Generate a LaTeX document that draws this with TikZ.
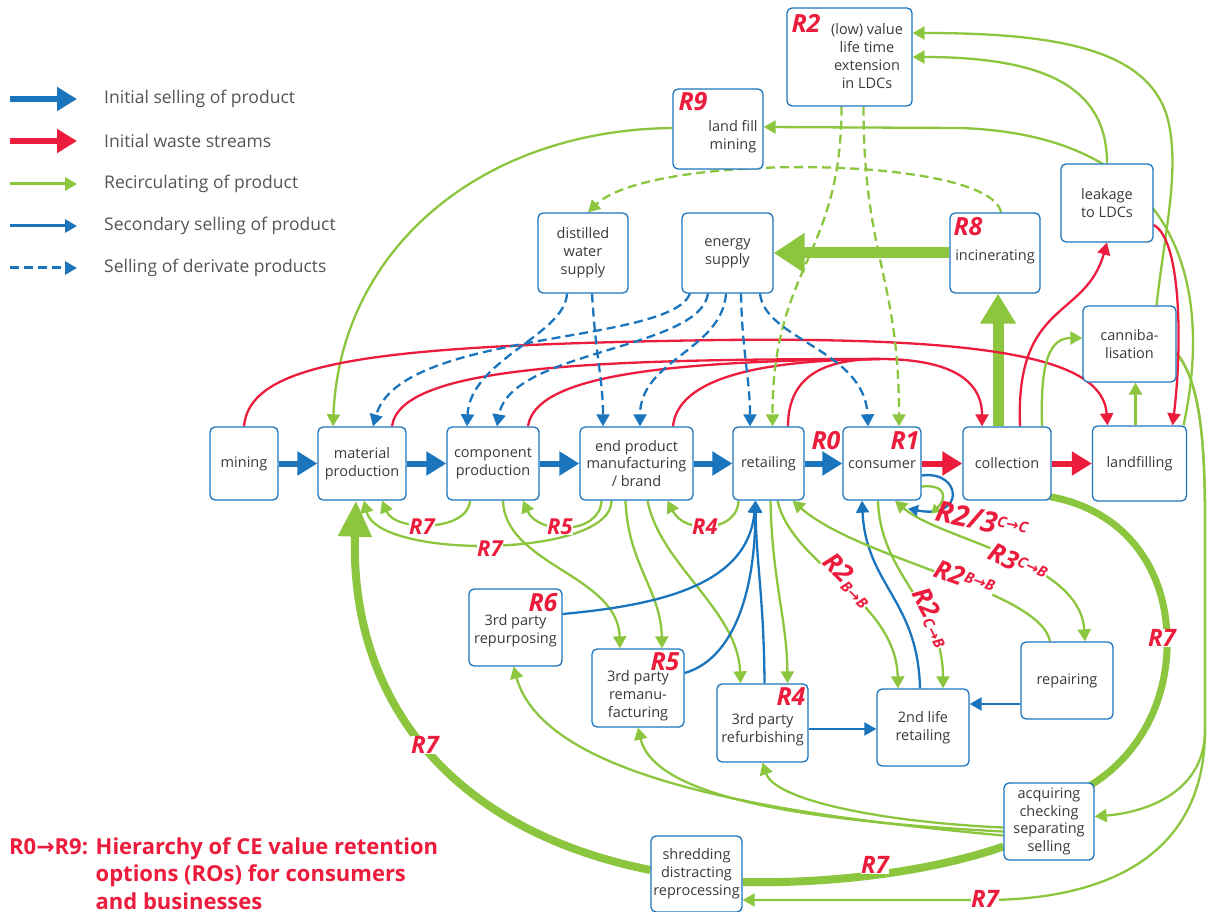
\documentclass[tikz,border=0pt]{standalone}
\usepackage{fontspec}
\setmainfont{Open Sans}
\newfontfamily\dejavu{DejaVu Sans}
\usetikzlibrary{arrows.meta}
\definecolor{cblue}{HTML}{1B75BC}
\definecolor{cred}{HTML}{EC1C3C}
\definecolor{cgreen}{HTML}{8CC63F}
\definecolor{ctext}{HTML}{3A3A3A}
\definecolor{clegend}{HTML}{555555}
\pgfdeclarelayer{back}
\pgfdeclarelayer{bg}
\pgfsetlayers{back,bg,main}
\newcommand\myarrow{{\dejavu →}}
\newcommand\smalltxt[1]{{\fontsize{15}{15}\selectfont #1}}
\tikzset{
  box/.style={draw=cblue, line width=1.3pt, rounded corners=5pt, fill=white, text=ctext, align=center, font=\fontsize{14.5}{17.8}\selectfont, inner sep=0pt},
  btxt/.style={text=ctext, align=center, font=\fontsize{14.5}{17.8}\selectfont, inner sep=0pt},
  rlab/.style={text=cred, font=\fontsize{25}{25}\selectfont\bfseries\itshape, inner sep=0pt},
  rlow/.style={text=cred, font=\fontsize{22}{22}\selectfont\bfseries\itshape, inner sep=0.5pt, fill=white},
  rdiag/.style={text=cred, font=\fontsize{26}{26}\selectfont\bfseries\itshape, inner sep=0.5pt},
  bigblue/.style={draw=cblue, line width=6pt, -{Triangle[length=20pt,width=23pt]}},
  bigred/.style={draw=cred, line width=6pt, -{Triangle[length=20pt,width=23pt]}},
  gthick/.style={draw=cgreen, line width=#1},
  garr/.style={draw=cgreen, line width=2.3pt, -{Triangle[length=12pt,width=13pt]}},
  barr/.style={draw=cblue, line width=2.3pt, -{Triangle[length=12pt,width=13pt]}},
  bdash/.style={barr, dash pattern=on 9pt off 5pt},
  gdash/.style={garr, dash pattern=on 9pt off 5pt},
  redarr/.style={draw=cred, line width=2.3pt, -{Triangle[length=12pt,width=13pt]}},
  redline/.style={draw=cred, line width=2.3pt},
  legtxt/.style={text=clegend, font=\fontsize{17.5}{20}\selectfont, anchor=west, inner sep=0pt},
}
\begin{document}
\begin{tikzpicture}[x=1pt,y=-1pt]
\begin{pgfonlayer}{back}
\fill[white] (0,0) rectangle (1211,912);
\end{pgfonlayer}
\useasboundingbox (0,0) rectangle (1211,912);

% ---------- boxes ----------
\node[box, minimum width=68pt, minimum height=73pt] (mining) at (244,463.5) {mining};
\node[box, minimum width=88pt, minimum height=73pt] (mat) at (362,463.5) {material\\production};
\node[box, minimum width=92pt, minimum height=73pt] (comp) at (493,463.5) {component\\production};
\node[box, minimum width=113pt, minimum height=73pt] (endp) at (636.5,463.5) {end product\\manufacturing\\/ brand};
\node[box, minimum width=71pt, minimum height=73pt] (ret) at (768.5,463.5) {retailing};
\node[box, minimum width=78pt, minimum height=73pt] (con) at (882,463.5) {};
\node[btxt] (contxt) at (882,465) {consumer};
\node[box, minimum width=88pt, minimum height=73pt] (coll) at (1007,463.5) {collection};
\node[box, minimum width=94pt, minimum height=75pt] (land) at (1139.5,463.5) {landfilling};
\node[box, minimum width=93pt, minimum height=76pt] (can) at (1129.5,344) {canniba-\\lisation};
\node[box, minimum width=92pt, minimum height=78pt] (leak) at (1107,203) {leakage\\to LDCs};
\node[box, minimum width=125pt, minimum height=98pt] (ldc) at (849.5,57) {};
\node[btxt] (ldctxt) at (867,56) {(low) value\\life time\\extension\\in LDCs};
\node[box, minimum width=90pt, minimum height=80pt] (lfm) at (718,129) {};
\node[btxt] (lfmtxt) at (733,137) {land fill\\mining};
\node[box, minimum width=90pt, minimum height=80pt] (dist) at (583,253) {distilled\\water\\supply};
\node[box, minimum width=91pt, minimum height=80pt] (energy) at (727.5,253) {energy\\supply};
\node[box, minimum width=90pt, minimum height=80pt] (inc) at (995,253) {};
\node[btxt] (inctxt) at (995,257) {incinerating};
\node[box, minimum width=93pt, minimum height=77pt] (rp) at (515.5,627.5) {};
\node[btxt] (rptxt) at (515.5,631) {3rd party\\repurposing};
\node[box, minimum width=92pt, minimum height=78pt] (rm) at (638,688) {};
\node[btxt] (rmtxt) at (638,696) {3rd party\\remanu-\\facturing};
\node[box, minimum width=91pt, minimum height=78pt] (rf) at (762.5,723) {};
\node[btxt] (rftxt) at (762.5,730) {3rd party\\refurbishing};
\node[box, minimum width=92pt, minimum height=77pt] (sec) at (923,727.5) {2nd life\\retailing};
\node[box, minimum width=92pt, minimum height=77pt] (rep) at (1067,680.5) {repairing};
\node[box, minimum width=90pt, minimum height=77pt] (acq) at (1049,821.5) {acquiring\\checking\\separating\\selling};
\node[box, minimum width=91pt, minimum height=76pt] (shr) at (696.5,874) {shredding\\distracting\\reprocessing};

% ---------- R labels in boxes ----------
\node[rlab] (r2) at (806,23) {R2};
\node[rlab] (r9) at (693,102) {R9};
\node[rlab] (r8) at (968,227) {R8};
\node[rlab] (r1) at (905,441) {R1};
\node[rlab] (r0) at (826,441) {R0};
\node[rlab] (r6) at (543,603) {R6};
\node[rlab] (r5) at (665,662) {R5};
\node[rlab] (r4) at (791,697) {R4};

% ---------- coordinates ----------
\coordinate (cn) at ([xshift=-9pt]coll.north);
\coordinate (cse) at ([xshift=-2pt,yshift=4pt]coll.south east);
\coordinate (acqne) at ([xshift=-6pt,yshift=-4pt]acq.north east);
\coordinate (acqw) at ([yshift=-25pt]acq.west);
\coordinate (shre) at ([yshift=-8pt]shr.east);
\coordinate (shrw) at ([yshift=4pt]shr.west);
\coordinate (cane) at ([yshift=-9pt]can.east);
\coordinate (landne) at ([xshift=44pt]land.north);
\coordinate (cann) at ([xshift=27pt]can.north);
\coordinate (lfmw) at ([yshift=1pt]lfm.west);
\coordinate (retb) at ([xshift=-13pt]ret.south);
\coordinate (repw) at ([yshift=-23.5pt]rep.west);
\coordinate (rfe) at ([yshift=-6pt]rf.east);
\coordinate (rj) at (880,359);
\coordinate (lnd) at ([xshift=-4pt]land.north);

\begin{pgfonlayer}{bg}
% thick initial selling / waste
\draw[bigblue] (mining.east) -- (mat.west);
\draw[bigblue] (mat.east) -- (comp.west);
\draw[bigblue] (comp.east) -- (endp.west);
\draw[bigblue] (endp.east) -- (ret.west);
\draw[bigblue] (ret.east) -- (con.west);
\draw[bigred] (con.east) -- (coll.west);
\draw[bigred] (coll.east) -- (land.west);

% thick green
\draw[gthick=11pt, -{Triangle[length=30pt,width=34pt]}] (cn) -- (cn |- inc.south);
\draw[gthick=11pt, -{Triangle[length=31pt,width=38pt]}] (inc.west) -- (inc.west -| energy.east);
\draw[gthick=7pt] (cse) .. controls (1125,510) and (1170,570) .. (1167,650) .. controls (1164,720) and (1125,765) .. (acqne);
\draw[gthick=8pt] (acqw) .. controls (930,872) and (830,884) .. (shre);
\draw[gthick=8pt, -{Triangle[length=36pt,width=32pt]}] (shrw) .. controls (450,830) and (350,700) .. ([xshift=-6pt]mat.south);

% green from acquiring
\draw[garr] ([yshift=-14pt]acq.west) .. controls (780,815) and (545,780) .. ([xshift=-2pt]rp.south);
\draw[garr] ([yshift=-10pt]acq.west) .. controls (820,822) and (655,800) .. (rm.south);
\draw[garr] ([yshift=-6pt]acq.west) .. controls (880,822) and (775,800) .. (rf.south);

% cannibalisation -> right edge
\draw[garr] (cane) .. controls (1198,380) and (1205,430) .. (1205,520) -- (1205,730) .. controls (1205,790) and (1150,812) .. ([yshift=5pt]acq.east);
\draw[garr] (cane) .. controls (1198,380) and (1205,430) .. (1205,520) -- (1205,730) .. controls (1205,860) and (1100,900) .. (985,900) -- ([yshift=-26pt]shr.east);

% to LDC and landfill mining
\draw[garr] (landne) .. controls (1215,280) and (1175,135) .. (960,128) -- ([yshift=2pt]lfm.east);
\draw[garr] (leak.north) .. controls (1107,90) and (1050,57) .. (ldc.east);
\draw[garr] (cann) .. controls (1165,230) and (1180,170) .. (1168,120) .. controls (1150,50) and (1060,33) .. ([yshift=24pt]ldc.east);
\draw[garr] (lfmw) .. controls (480,130) and (340,250) .. ([xshift=-29pt]mat.north);

% loops under top row
\draw[garr] ([xshift=-23pt]comp.south) .. controls (468,532) and (395,532) .. ([xshift=20pt]mat.south);
\draw[garr] ([xshift=-25pt]endp.south) .. controls (612,558) and (378,560) .. ([xshift=2pt]mat.south);
\draw[garr] ([xshift=-35pt]endp.south) .. controls (600,535) and (538,535) .. ([xshift=30pt]comp.south);
\draw[garr] ([xshift=-30pt]ret.south) .. controls (738,532) and (685,535) .. ([xshift=31pt]endp.south);

% down to 3rd parties / 2nd life
\draw[garr] ([xshift=10pt]comp.south) .. controls (505,565) and (618,575) .. ([xshift=-18pt]rm.north);
\draw[garr] ([xshift=-11pt]endp.south) .. controls (628,565) and (661,590) .. ([xshift=24pt]rm.north);
\draw[garr] ([xshift=11pt]endp.south) .. controls (660,565) and (738,610) .. ([xshift=-22pt]rf.north);
\draw[garr] ([xshift=2pt]ret.south) .. controls (772,580) and (787,620) .. ([xshift=25pt]rf.north);
\draw[garr] ([xshift=9pt]ret.south) .. controls (792,565) and (896,600) .. ([xshift=-25pt]sec.north);
\draw[garr] ([xshift=-4pt]con.south) .. controls (880,575) and (943,605) .. ([xshift=20pt]sec.north);
\draw[barr] ([xshift=-3pt]sec.north) .. controls (918,600) and (866,585) .. ([xshift=-20pt]con.south);

% blue secondary selling into retailing
\draw[barr] ([xshift=2pt]rf.north) .. controls (764,600) and (756,560) .. (retb);
\draw[barr] ([yshift=15pt]rm.east) .. controls (730,660) and (755,600) .. (retb);
\draw[barr] ([yshift=13.5pt]rp.east) .. controls (660,605) and (748,585) .. (retb);
\draw[barr] (repw) -- (repw -| sec.east);
\draw[barr] (rfe) -- (rfe -| sec.west);

% repairing
\draw[garr] ([xshift=-17pt]rep.north) .. controls (1040,590) and (860,560) .. ([xshift=24pt]ret.south);
\draw[draw=cgreen, line width=2.3pt, {Triangle[length=12pt,width=13pt]}-{Triangle[length=12pt,width=13pt]}] ([xshift=13pt]con.south) .. controls (940,540) and (1080,560) .. ([xshift=18pt]rep.north);

% consumer self loops
\draw[barr, -{Triangle[length=10pt,width=11pt]}] ([yshift=-12pt]con.east) .. controls (962,470) and (966,520) .. ([xshift=26pt,yshift=-8pt]con.south);
\draw[garr, -{Triangle[length=9pt,width=10pt]}] ([yshift=-23pt]con.east) .. controls (948,484) and (946,500) .. ([xshift=49pt,yshift=-13pt]con.south);

% red waste streams
\draw[redarr] (mining.north) .. controls (250,360) and (380,345) .. (720,340) .. controls (1000,337) and (1103,360) .. ([xshift=-32pt]land.north);
\draw[redline] ([xshift=30pt]mat.north) .. controls (400,365) and (600,359) .. (rj);
\draw[redline] ([xshift=35pt]comp.north) .. controls (535,378) and (650,361) .. (rj);
\draw[redline] ([xshift=36.5pt]endp.north) .. controls (678,378) and (760,360) .. (rj);
\draw[redline] ([xshift=19.5pt]ret.north) .. controls (788,372) and (830,359) .. (rj);
\draw[redarr] (rj) .. controls (950,359) and (982,380) .. ([xshift=-25pt]coll.north);
\draw[redarr] ([xshift=13pt]coll.north) .. controls (1015,300) and (1085,320) .. (leak.south);
\draw[redarr] ([yshift=-22pt]leak.east) .. controls (1182,240) and (1182,350) .. ([xshift=33pt]land.north);

% green collection / landfilling -> cannibalisation
\draw[garr] ([xshift=35pt]coll.north) .. controls (1040,360) and (1050,338) .. ([yshift=6pt]can.west);
\draw[garr] (lnd) -- (lnd |- can.south);

% dashed green
\draw[gdash] ([xshift=-8pt]ldc.south) .. controls +(0,150) and +(0,-160) .. ([xshift=4pt]ret.north);
\draw[gdash] ([xshift=14pt]ldc.south) .. controls +(0,150) and +(0,-150) .. ([xshift=17pt]con.north);
\draw[gdash] ([xshift=6pt]inc.north) .. controls (990,155) and (650,152) .. ([xshift=5pt]dist.north);

% dashed blue
\draw[bdash] ([xshift=-16pt]dist.south) .. controls (565,335) and (470,360) .. ([xshift=-26pt]comp.north);
\draw[bdash] ([xshift=9pt]dist.south) .. controls (596,360) and (603,380) .. ([xshift=-33.5pt]endp.north);
\draw[bdash] ([xshift=-37.5pt]energy.south) .. controls (670,345) and (400,330) .. ([xshift=11pt]mat.north);
\draw[bdash] ([xshift=-19.5pt]energy.south) .. controls (700,350) and (510,350) .. ([xshift=4pt]comp.north);
\draw[bdash] ([xshift=-1.5pt]energy.south) .. controls (722,350) and (640,360) .. ([xshift=3.5pt]endp.north);
\draw[bdash] ([xshift=13.5pt]energy.south) .. controls (742,350) and (750,380) .. ([xshift=-18.5pt]ret.north);
\draw[bdash] ([xshift=32.5pt]energy.south) .. controls (765,340) and (865,350) .. ([xshift=-14pt]con.north);
\end{pgfonlayer}

% ---------- labels on connectors ----------
\node[rlow] (lr7a) at (422,527) {R7};
\node[rlow] (lr7b) at (490,549) {R7};
\node[rlow] (lr5) at (560,527) {R5};
\node[rlow] (lr4) at (705,527) {R4};
\node[rlow, font=\fontsize{24}{24}\selectfont\bfseries\itshape] (lr7c) at (425,745) {R7};
\node[rlow, font=\fontsize{24}{24}\selectfont\bfseries\itshape] (lr7d) at (875,865) {R7};
\node[rlow, font=\fontsize{24}{24}\selectfont\bfseries\itshape] (lr7e) at (1162,638) {R7};
\node[rlow, font=\fontsize{24}{24}\selectfont\bfseries\itshape] (lr7f) at (985,899) {R7};
\node[rdiag, fill=white, rotate=-45] (l2bb) at (848,580) {R2\raisebox{-4pt}{\smalltxt{B\myarrow B}}};
\node[rdiag, fill=white, rotate=-62] (l2cb) at (932,617) {R2\raisebox{-4pt}{\smalltxt{C\myarrow B}}};
\node[rdiag, fill=white, rotate=-20] (l2bb2) at (965,578) {R2\raisebox{6pt}{\smalltxt{B\myarrow B}}};
\node[rdiag, fill=white, rotate=-25] (l3cb) at (1018,563) {R3\raisebox{6pt}{\smalltxt{C\myarrow B}}};
\node[rdiag, font=\fontsize{29}{29}\selectfont\bfseries\itshape, rotate=-12] (l23cc) at (982,520) {R2/3\raisebox{7pt}{\smalltxt{C\myarrow C}}};

% ---------- legend ----------
\coordinate (lg1a) at (10,99);  \coordinate (lg1b) at (77,99);
\coordinate (lg2a) at (10,141); \coordinate (lg2b) at (77,141);
\coordinate (lg3a) at (10,184); \coordinate (lg3b) at (77,184);
\coordinate (lg4a) at (10,226); \coordinate (lg4b) at (77,226);
\coordinate (lg5a) at (10,268); \coordinate (lg5b) at (77,268);
\draw[bigblue] (lg1a) -- (lg1b);
\draw[bigred] (lg2a) -- (lg2b);
\draw[garr, line width=3pt] (lg3a) -- (lg3b);
\draw[barr, line width=3pt] (lg4a) -- (lg4b);
\draw[bdash, line width=3pt] (lg5a) -- (lg5b);
\node[legtxt] (lt1) at (104,99) {Initial selling of product};
\node[legtxt] (lt2) at (104,141) {Initial waste streams};
\node[legtxt] (lt3) at (104,184) {Recirculating of product};
\node[legtxt] (lt4) at (104,226) {Secondary selling of product};
\node[legtxt] (lt5) at (104,268) {Selling of derivate products};

% ---------- note ----------
\node[anchor=north west, inner sep=0pt, text=cred, font=\fontsize{22}{27.5}\selectfont\bfseries] (note) at (9,835)
 {\begin{tabular}{@{}l@{ }l@{}}R0\myarrow R9: & Hierarchy of CE value retention\\ & options (ROs) for consumers\\ & and businesses\end{tabular}};
\end{tikzpicture}
\end{document}
